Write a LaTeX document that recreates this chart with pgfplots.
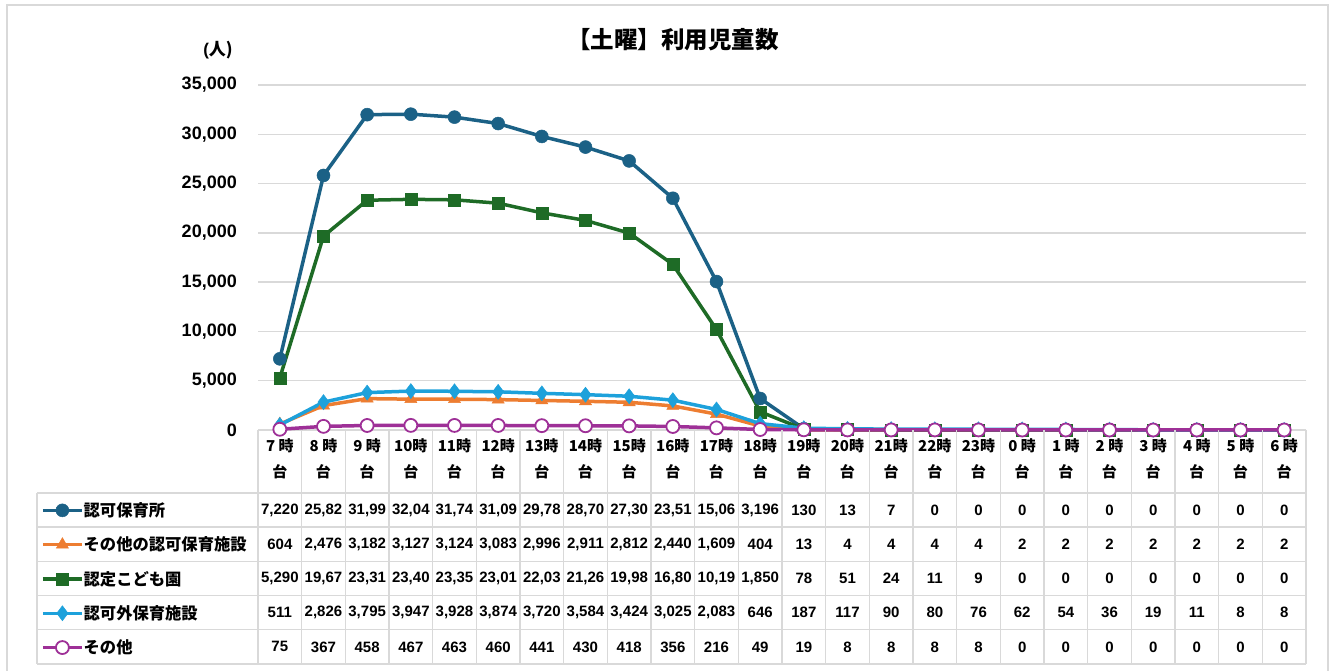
\documentclass[border=0pt]{standalone}
\usepackage{pgfplots}
\pgfplotsset{compat=1.18}
\usepackage{pgfplotstable}
\usepackage{fontspec}
\setmainfont{Liberation Sans}
\newfontfamily\cjk{Noto Sans CJK JP}
\definecolor{c1}{HTML}{1B6186}
\definecolor{c2}{HTML}{ED7D31}
\definecolor{c3}{HTML}{1E6B26}
\definecolor{c4}{HTML}{1DA1DB}
\definecolor{c5}{HTML}{9E3097}
\definecolor{gridc}{HTML}{D9D9D9}

\pgfplotstableread{
x a b c d e
0 7220 604 5290 511 75
1 25820 2476 19670 2826 367
2 31990 3182 23310 3795 458
3 32040 3127 23400 3947 467
4 31740 3124 23350 3928 463
5 31090 3083 23010 3874 460
6 29780 2996 22030 3720 441
7 28700 2911 21260 3584 430
8 27300 2812 19980 3424 418
9 23510 2440 16800 3025 356
10 15060 1609 10190 2083 216
11 3196 404 1850 646 49
12 130 13 78 187 19
13 13 4 51 117 8
14 7 4 24 90 8
15 0 4 11 80 8
16 0 4 9 76 8
17 0 2 0 62 0
18 0 2 0 54 0
19 0 2 0 36 0
20 0 2 0 19 0
21 0 2 0 11 0
22 0 2 0 8 0
23 0 2 0 8 0
}\data

\begin{document}
\begin{tikzpicture}
\path[use as bounding box] (0,0) rectangle (1334pt,671pt);
% outer frame
\draw[gridc, line width=1.2pt] (7pt,-10pt) -- (7pt,666pt) -- (1328pt,666pt) -- (1328pt,-10pt);
\begin{axis}[
  at={(258pt,241pt)}, anchor=south west, scale only axis,
  width=1048pt, height=345pt,
  xmin=-0.5, xmax=23.5, ymin=0, ymax=35000, clip=false,
  ytick={0,5000,...,35000}, scaled y ticks=false,
  /pgf/number format/assume math mode=true,
  /pgf/number format/1000 sep={,},
  ymajorgrids, major grid style={gridc, line width=1.4pt},
  axis line style={draw=none}, major tick length=0pt,
  yticklabel style={font=\bfseries\fontsize{18}{20}\selectfont, anchor=east, inner sep=0pt, xshift=-21pt},
  xtick={0,...,23},
  xticklabels={{7 時\\台},{8 時\\台},{9 時\\台},{10時\\台},{11時\\台},{12時\\台},{13時\\台},{14時\\台},{15時\\台},{16時\\台},{17時\\台},{18時\\台},{19時\\台},{20時\\台},{21時\\台},{22時\\台},{23時\\台},{0 時\\台},{1 時\\台},{2 時\\台},{3 時\\台},{4 時\\台},{5 時\\台},{6 時\\台}},
  xticklabel style={font=\cjk\bfseries\fontsize{15}{26}\selectfont, align=center, anchor=north, inner sep=0pt, yshift=-8pt},
  legend style={at={(axis description cs:-0.2071,-0.18261)}, anchor=north west, draw=none, fill=none,
    inner sep=0pt, row sep=0pt, column sep=0pt,
    nodes={inner sep=0pt, minimum height=34.3pt, anchor=west, font=\cjk\bfseries\fontsize{16.3}{18}\selectfont}},
  legend cell align=left,
  legend image code/.code={\draw[mark repeat=2,mark phase=2,#1] plot coordinates {(0pt,0pt) (19.5pt,0pt) (39pt,0pt)};},
]
\addplot[c1, line width=3.5pt, mark=*, mark size=6.5pt, mark options={solid, fill=c1, line width=0.5pt}] table[x=x,y=a] {\data};
\addlegendentry{認可保育所}
\addplot[c2, line width=3.5pt, mark=triangle*, mark size=7pt, mark options={solid, fill=c2, line width=0.5pt}] table[x=x,y=b] {\data};
\addlegendentry{その他の認可保育施設}
\addplot[c3, line width=3.5pt, mark=square*, mark size=6pt, mark options={solid, fill=c3, line width=0.5pt}] table[x=x,y=c] {\data};
\addlegendentry{認定こども園}
\addplot[c4, line width=3.5pt, mark=diamond*, mark size=7.5pt, mark options={solid, fill=c4, line width=0.5pt}] table[x=x,y=d] {\data};
\addlegendentry{認可外保育施設}
\addplot[c5, line width=3.5pt, mark=*, mark size=6.5pt, mark options={solid, fill=white, draw=c5, line width=1.8pt}] table[x=x,y=e] {\data};
\addlegendentry{その他}
\end{axis}
\begin{scope}[yshift=671pt, x=1pt, y=-1pt]
  \node[font=\cjk\bfseries\fontsize{23.5}{25}\selectfont] at (673,40) {【土曜】利用児童数};
  \node[font=\bfseries\fontsize{17}{19}\selectfont] at (218,50) {(\cjk 人)};
  % table grid
  \foreach \yy in {493,527.2,561.4,595.6,629.8,664} \draw[gridc, line width=1.4pt] (37,\yy) -- (1306,\yy);
  \draw[gridc, line width=1.4pt] (37,493) -- (37,664);
  \foreach \k in {0,...,24} \draw[gridc, line width=1.4pt] ({258+\k*43.667},430) -- ({258+\k*43.667},664);
  \tikzset{tv/.style={font=\bfseries\fontsize{15}{17}\selectfont}}
  \foreach \v [count=\i from 0] in {{7,220},{25,82},{31,99},{32,04},{31,74},{31,09},{29,78},{28,70},{27,30},{23,51},{15,06},{3,196},130,13,7,0,0,0,0,0,0,0,0,0}
    \node[tv] at ({258+(\i+0.5)*43.667},510.1) {\v};
  \foreach \v [count=\i from 0] in {604,{2,476},{3,182},{3,127},{3,124},{3,083},{2,996},{2,911},{2,812},{2,440},{1,609},404,13,4,4,4,4,2,2,2,2,2,2,2}
    \node[tv] at ({258+(\i+0.5)*43.667},544.3) {\v};
  \foreach \v [count=\i from 0] in {{5,290},{19,67},{23,31},{23,40},{23,35},{23,01},{22,03},{21,26},{19,98},{16,80},{10,19},{1,850},78,51,24,11,9,0,0,0,0,0,0,0}
    \node[tv] at ({258+(\i+0.5)*43.667},578.5) {\v};
  \foreach \v [count=\i from 0] in {511,{2,826},{3,795},{3,947},{3,928},{3,874},{3,720},{3,584},{3,424},{3,025},{2,083},646,187,117,90,80,76,62,54,36,19,11,8,8}
    \node[tv] at ({258+(\i+0.5)*43.667},612.7) {\v};
  \foreach \v [count=\i from 0] in {75,367,458,467,463,460,441,430,418,356,216,49,19,8,8,8,8,0,0,0,0,0,0,0}
    \node[tv] at ({258+(\i+0.5)*43.667},646.9) {\v};
\end{scope}
\end{tikzpicture}
\end{document}
